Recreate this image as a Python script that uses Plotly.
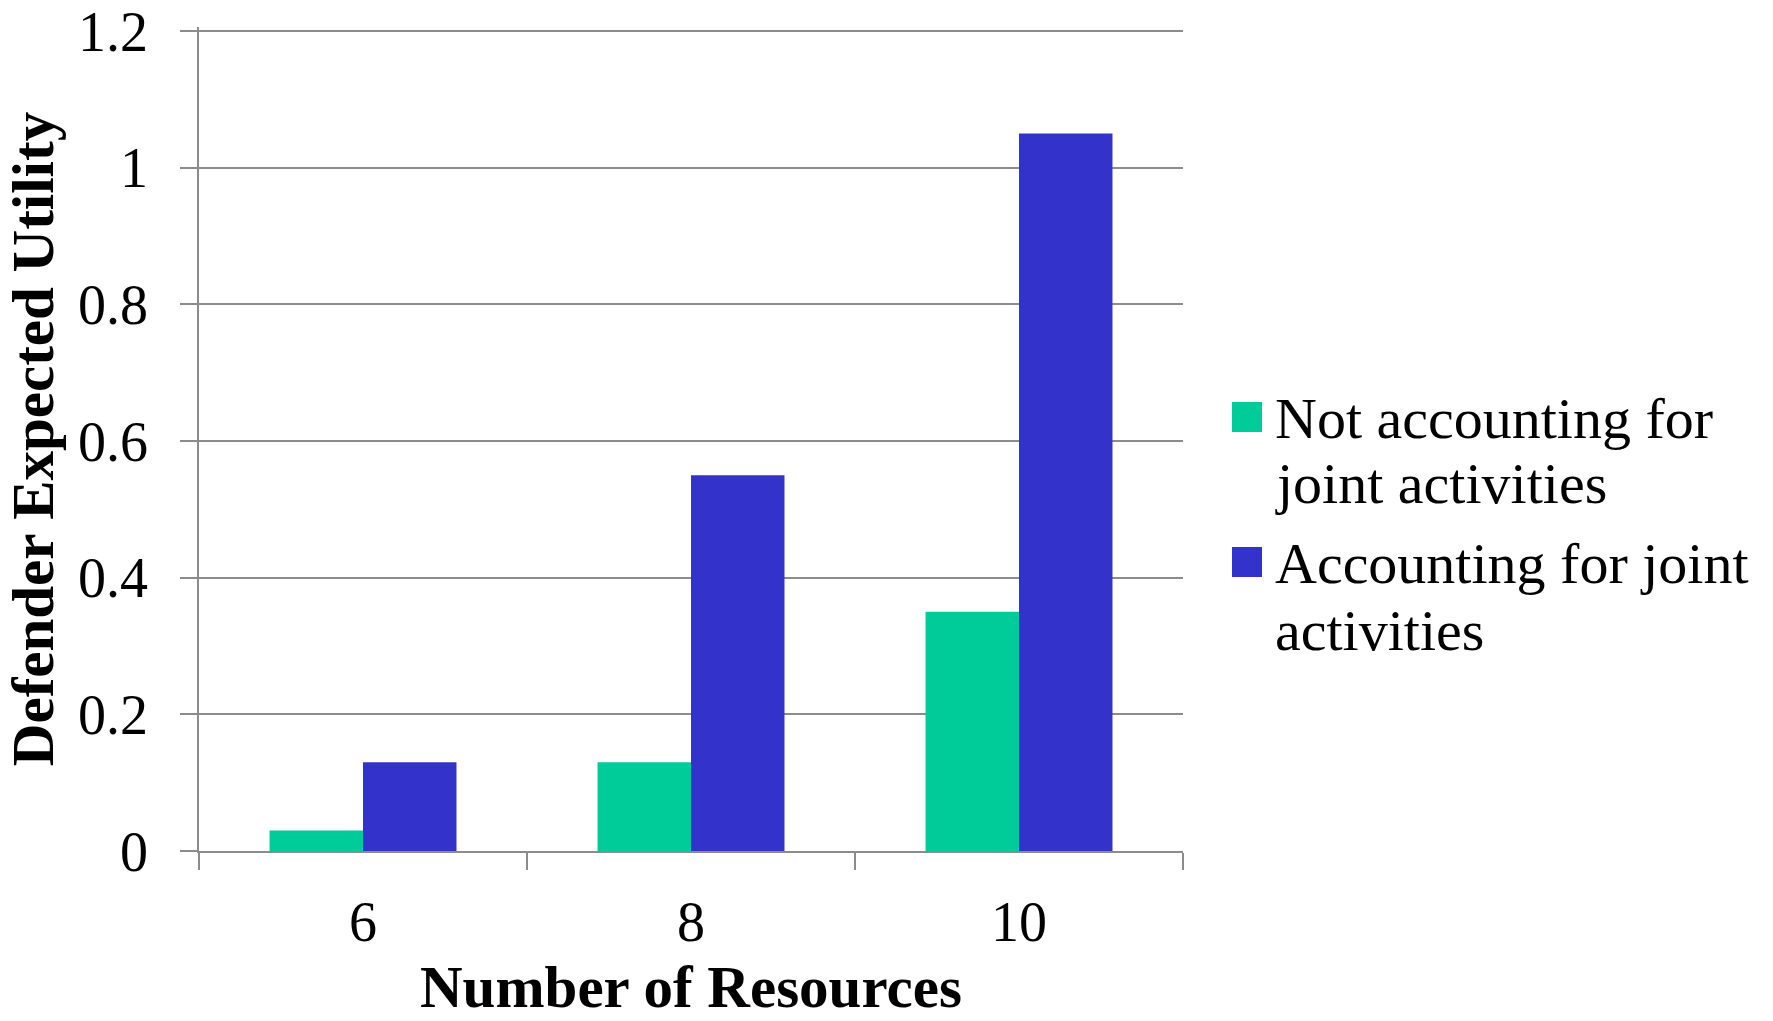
import plotly.graph_objects as go

categories = ["6", "8", "10"]
not_accounting = [0.03, 0.13, 0.35]
accounting = [0.13, 0.55, 1.05]
series_names = ["Not accounting for joint activities", "Accounting for joint activities"]
legend_lines = [["Not accounting for", "joint activities"], ["Accounting for joint", "activities"]]
colors = ["#00CC99", "#3333CC"]
y_ticks = [0, 0.2, 0.4, 0.6, 0.8, 1.0, 1.2]
y_tick_labels = ["0", "0.2", "0.4", "0.6", "0.8", "1", "1.2"]
x_title = "Number of Resources"
y_title = "Defender Expected Utility"

FONT = "Liberation Serif"
GRID = "#8c8c8c"
W, H = 1773, 1021
L, R, T, B = 199, 590, 27, 170
PW, PH = W - L - R, H - T - B


def px_x(x):
    return (x - L) / PW


def px_y(y):
    return (H - B - y) / PH


fig = go.Figure()
for name, vals, col in zip(series_names, [not_accounting, accounting], colors):
    fig.add_trace(go.Bar(x=categories, y=vals, name=name, showlegend=False,
                         marker=dict(color=col, line=dict(width=0))))

# Legend drawn as shapes + text to match the large swatches of the original
shapes = []
annotations = []
swatch_tops = [402, 547]
baselines = [[438, 503], [583, 650]]
for i, col in enumerate(colors):
    t = swatch_tops[i]
    shapes.append(dict(type="rect", xref="paper", yref="paper",
                       x0=px_x(1232), x1=px_x(1262), y0=px_y(t + 30), y1=px_y(t),
                       fillcolor=col, line=dict(width=0)))
    for line, bl in zip(legend_lines[i], baselines[i]):
        annotations.append(dict(text=line, xref="paper", yref="paper",
                                x=px_x(1273), y=px_y(bl - 19.5), xanchor="left", yanchor="middle",
                                showarrow=False, font=dict(family=FONT, size=58, color="black")))

# x-axis title (placed as text so it can sit as low as in the original)
annotations.append(dict(text=x_title, xref="paper", yref="paper", x=0.5, y=px_y(1006 - 19.5),
                        xanchor="center", yanchor="middle", showarrow=False,
                        font=dict(family=FONT, size=59, color="black", weight="bold")))

fig.update_layout(
    width=W, height=H,
    margin=dict(l=L, r=R, t=T, b=B, autoexpand=False),
    paper_bgcolor="white", plot_bgcolor="white",
    barmode="group", bargap=0.43, bargroupgap=0,
    font=dict(family=FONT, color="black", size=54),
    showlegend=False,
    shapes=shapes, annotations=annotations,
)
fig.update_xaxes(
    type="category", range=[-0.5, 2.5],
    showline=True, linecolor=GRID, linewidth=1.5,
    ticks="outside", tickson="boundaries", ticklen=17, tickcolor=GRID, tickwidth=1.5,
    tickfont=dict(family=FONT, size=56), ticklabelstandoff=21,
    showgrid=False,
)
fig.update_yaxes(
    range=[0, 1.206], tickvals=y_ticks, ticktext=y_tick_labels,
    showline=True, linecolor=GRID, linewidth=1.5,
    ticks="outside", ticklen=17, tickcolor=GRID, tickwidth=1.5,
    showgrid=True, gridcolor=GRID, gridwidth=1.5,
    zeroline=False, ticklabeloverflow="allow",
    tickfont=dict(family=FONT, size=56), ticklabelstandoff=21,
    title=dict(text=y_title, font=dict(family=FONT, size=59, weight="bold"), standoff=20),
)

fig.write_html("out.html")
